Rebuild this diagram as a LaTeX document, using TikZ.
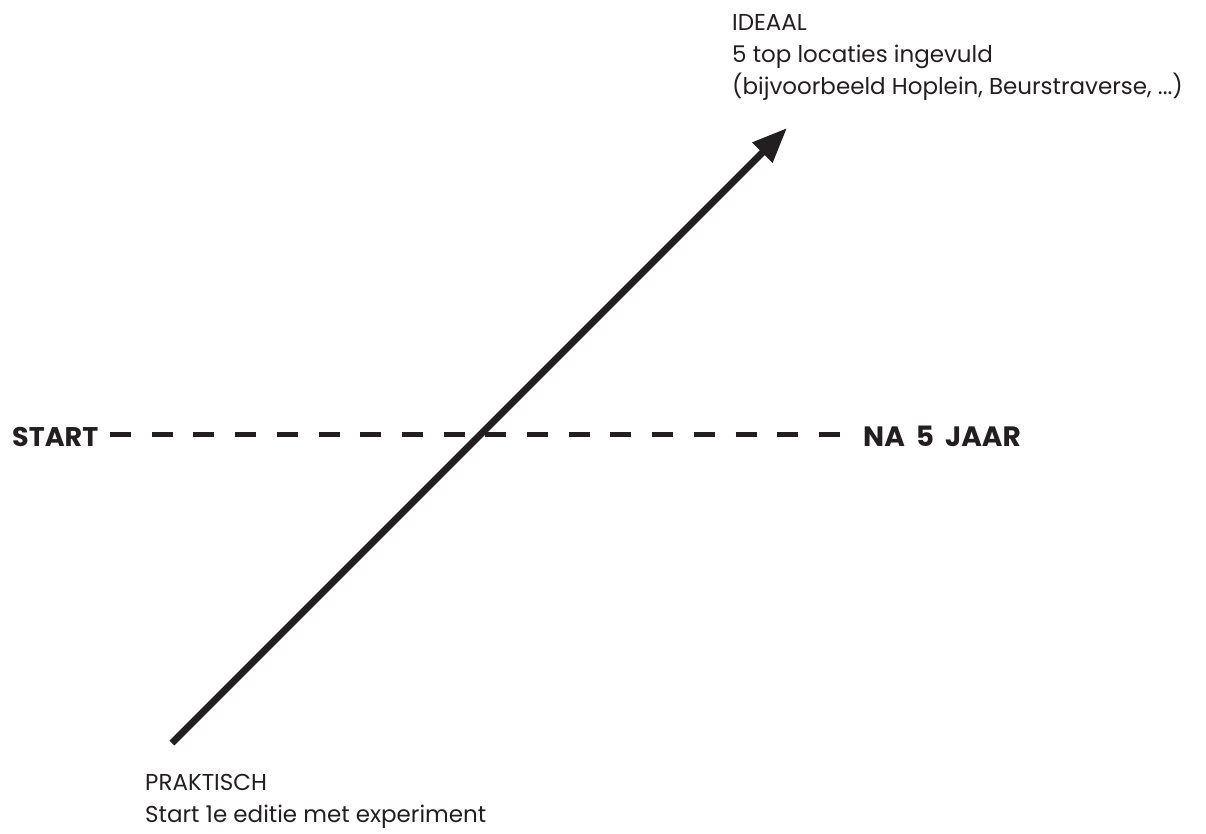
\documentclass[tikz,border=0pt]{standalone}
\usepackage{fontspec}
\setmainfont{Poppins}
\usetikzlibrary{arrows.meta}
\definecolor{ink}{HTML}{231F20}
\tikzset{
  lbl/.style={inner sep=0pt, anchor=north west, align=left, text=ink, font=\fontsize{23}{32}\selectfont},
  axislbl/.style={inner sep=0pt, anchor=base west, text=ink, font=\fontsize{27}{30}\selectfont\bfseries},
  widespace/.style={font=\fontsize{28}{30}\selectfont\bfseries, execute at begin node={\spaceskip=11pt\relax}},
  axis/.style={draw=ink, line width=5pt, dash pattern=on 21pt off 20.7pt},
  growth/.style={draw=ink, line width=7pt, -{Triangle[length=35pt,width=27pt]}}
}
\begin{document}
\begin{tikzpicture}[x=1pt,y=-1pt]
\useasboundingbox (0,0) rectangle (1206,834);
\node[axislbl] (start) at (12,446) {START};
\node[axislbl, widespace] (end) at (863,446) {NA 5 JAAR};
\coordinate (a0) at (110,434);
\coordinate (a1) at (840,434);
\draw[axis] (a0) -- (a1);
\coordinate (p0) at (172,743);
\coordinate (p1) at (787,128);
\draw[growth] (p0) -- (p1);
\node[lbl] (ideaal) at (732,14) {IDEAAL\\5 top locaties ingevuld\\(bijvoorbeeld Hoplein, Beurstraverse, ...)};
\node[lbl] (prak) at (145,774) {PRAKTISCH\\Start 1e editie met experiment};
\end{tikzpicture}
\end{document}
